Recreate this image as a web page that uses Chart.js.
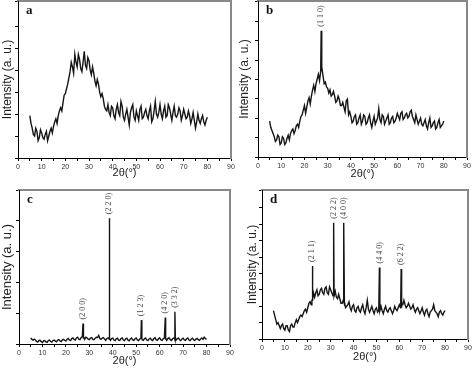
<!DOCTYPE html>
<html>
<head>
<meta charset="utf-8">
<script src="https://cdn.jsdelivr.net/npm/chart.js@4.4.1/dist/chart.umd.min.js"></script>
<style>
  body { margin: 0; background: #fff; }
  #wrap { position: relative; width: 474px; height: 368px; overflow: hidden; }
  canvas { position: absolute; }
</style>
</head>
<body>
<div id="wrap">
  <canvas id="pa" width="237" height="184" style="left:0;top:0"></canvas>
  <canvas id="pb" width="237" height="184" style="left:237px;top:0"></canvas>
  <canvas id="pc" width="237" height="184" style="left:0;top:184px"></canvas>
  <canvas id="pd" width="237" height="184" style="left:237px;top:184px"></canvas>
</div>
<script>
// 2theta grid (degrees): whole and half steps
var theta = [5,6,7,8,9,10,11,12,13,14,15,16,17,18,19,20,21,22,23,24,25,26,27,28,29,30,
  31,32,33,34,35,36,37,38,39,40,41,42,43,44,45,46,47,48,49,50,51,52,53,54,55,56,57,58,59,60,
  61,62,63,64,65,66,67,68,69,70,71,72,73,74,75,76,77,78,79,80];
var thetaHalf = [5.5,6.5,7.5,8.5,9.5,10.5,11.5,12.5,13.5,14.5,15.5,16.5,17.5,18.5,19.5,20.5,
  21.5,22.5,23.5,24.5,25.5,26.5,27.5,28.5,29.5,30.5,31.5,32.5,33.5,34.5,35.5,36.5,37.5,38.5,
  39.5,40.5,41.5,42.5,43.5,44.5,45.5,46.5,47.5,48.5,49.5,50.5,51.5,52.5,53.5,54.5,55.5,56.5,
  57.5,58.5,59.5,60.5,61.5,62.5,63.5,64.5,65.5,66.5,67.5,68.5,69.5,70.5,71.5,72.5,73.5,74.5,
  75.5,76.5,77.5,78.5,79.5];
var xTicks = [0, 10, 20, 30, 40, 50, 60, 70, 80, 90];

// intensities (a.u., 0-100 of the plot height)
var aInt = [27,19,14,17,13,16,12,17,14,19,
  20,25,27,32,35,41,47,55,58,66,
  58,63,55,68,57,62,53,54,46,47,
  39,38,31,34,27,32,25,34,27,33,
  24,31,21,32,26,30,24,33,26,31,
  25,33,25,36,26,34,25,33,27,32,
  24,33,26,32,24,31,25,30,22,29,
  19,28,22,27,21,26];
var aIntHalf = [22,15,19,11,18,13,15,11,17,16,
  23,22,30,30,40,44,51,61,54,61,
  66,57,61,59,64,56,58,49,50,42,
  41,33,30,29,33,27,31,29,36,26,
  28,26,29,34,24,27,31,25,29,27,
  30,23,30,28,29,28,30,26,34,28,
  29,27,28,30,27,28,26,27,25,24,
  23,24,25,23,24];
var bInt = [23,17,13,11,13,9,12,9,14,15,
  18,17,21,23,27,33,32,38,39,46,
  47,53,55,52,48,44,43,40,39,36,
  37,33,32,36,27,26,23,27,22,27,
  23,26,22,27,19,26,23,31,22,26,
  23,27,22,26,23,28,24,29,25,28,
  26,30,24,27,21,25,20,24,18,25,
  20,23,19,24,20,23];
var bIntHalf = [19,15,10,14,8,13,8,12,11,17,
  15,20,19,26,30,28,36,34,43,42,
  50,49,58,47,45,41,39,42,35,39,
  33,35,29,37,29,22,26,21,25,21,
  27,21,25,22,23,21,25,24,27,21,
  25,21,25,22,25,26,28,24,27,25,
  29,26,22,24,23,21,22,20,22,19,
  22,18,22,19,21];
var cInt = [4.0,2.5,2.6,1.2,2.4,1.0,2.3,1.1,2.5,1.2,
  2.6,1.4,2.8,1.6,3.0,1.9,3.6,2.2,4.0,2.6,
  4.4,2.9,4.6,3.0,4.0,2.8,4.2,2.8,4.4,5.6,
  3.0,4.2,2.4,4.0,2.4,3.8,2.2,3.8,2.3,3.9,
  2.2,3.8,2.1,3.9,2.3,3.9,2.2,3.8,2.4,3.9,
  2.2,3.8,2.3,4.0,2.4,4.0,2.3,3.9,2.4,4.0,
  2.3,3.9,2.5,3.9,2.2,3.8,2.3,3.9,2.2,3.8,
  2.3,3.7,2.4,3.9,4.4,3.0];
var cIntHalf = [3.0,3.2,1.6,2.3,1.5,2.1,1.4,2.2,1.6,2.3,
  1.8,2.5,2.0,2.7,2.4,3.1,2.6,3.5,3.0,3.9,
  3.2,4.2,3.4,4.4,3.1,3.9,3.0,3.8,4.2,3.6,
  3.9,3.2,3.6,3.0,3.5,2.6,3.4,2.5,3.5,2.6,
  3.4,2.5,3.3,2.6,3.4,2.6,3.3,2.7,3.4,2.6,
  3.3,2.7,3.5,2.8,3.4,2.7,3.4,2.7,3.5,2.8,
  3.4,2.8,3.4,2.7,3.3,2.7,3.4,2.6,3.3,2.7,
  3.2,2.8,3.3,3.0,3.6];
var dInt = [19,13,11,7,10,6,9,5,10,8,
  13,13,16,17,20,21,25,26,28,33,
  30,34,30,35,30,33,29,32,27,27,
  24,25,22,25,19,23,18,22,18,23,
  17,26,18,22,17,21,19,22,17,22,
  18,21,17,22,19,23,21,26,21,24,
  20,23,18,21,17,21,16,20,15,19,
  23,18,15,19,16,19];
var dIntHalf = [16,10,9,9,7,9,6,9,8,11,
  11,15,15,19,18,24,23,31,31,29,
  33,31,34,31,35,31,30,28,30,24,
  26,21,23,21,22,19,21,19,21,19,
  21,20,20,19,20,18,21,19,20,19,
  20,19,19,20,21,21,23,23,22,22,
  21,20,20,19,19,18,19,17,18,20,
  19,17,18,17,18];

// reflections
var bPeakPos = [27.2];
var bPeakTop = [81];
var bPeakBase = [55];
var bPeakHkl = ['(1 1 0)'];

var cPeakPos = [27.3, 38.5, 52.2, 62.4, 66.5];
var cPeakTop = [13.3, 81.7, 15.5, 17.2, 20.9];
var cPeakBase = [4.6, 3.6, 3.8, 3.9, 3.9];
var cPeakHkl = ['(2 0 0)', '(2 2 0)', '(1 2 3)', '(4 2 0)', '(3 3 2)'];

var dPeakPos = [22.0, 31.3, 35.8, 51.3, 60.8];
var dPeakTop = [49, 78, 78, 48, 47];
var dPeakBase = [26, 29, 25, 19, 23];
var dPeakHkl = ['(2 1 1)', '(2 2 2)', '(4 0 0)', '(4 4 0)', '(6 2 2)'];

Chart.defaults.font.family = '"Liberation Sans", Arial, sans-serif';

function buildPoints(vals, half, pos, top, base) {
    var pts = theta.map((t, i) => ({ x: t, y: vals[i] }));
    thetaHalf.forEach((t, i) => pts.push({ x: t, y: half[i] }));
    pos.forEach((p, i) => {
        pts.push({ x: p - 0.2, y: base[i] }, { x: p, y: top[i] }, { x: p + 0.2, y: base[i] });
    });
    pts.sort((a, b) => a.x - b.x);
    return pts;
}

// panel letter + hkl labels
const peakLabels = {
    id: 'peakLabels',
    afterDatasetsDraw(chart, args, opts) {
        const ctx = chart.ctx;
        const xs = chart.scales.x, ys = chart.scales.y, area = chart.chartArea;
        ctx.save();
        ctx.fillStyle = '#111';
        ctx.font = 'bold 13px "Liberation Serif"';
        ctx.textBaseline = 'alphabetic';
        ctx.fillText(opts.letter, area.left + 8, area.top + 13);
        ctx.font = '8px "Liberation Serif"';
        ctx.fillStyle = '#444';
        opts.pos.forEach((p, i) => {
            ctx.save();
            ctx.translate(xs.getPixelForValue(p), ys.getPixelForValue(opts.top[i]) - 4);
            ctx.rotate(-Math.PI / 2);
            ctx.textAlign = 'left';
            ctx.textBaseline = 'middle';
            ctx.fillText(opts.hkl[i], 0, 0);
            ctx.restore();
        });
        ctx.restore();
    }
};

function makePanel(id, letter, vals, half, pos, top, base, hkl, box) {
    var W = 237, H = 184;
    return new Chart(document.getElementById(id), {
        type: 'line',
        data: {
            datasets: [{
                data: buildPoints(vals, half, pos, top, base),
                borderColor: '#151515',
                borderWidth: 1.4,
                pointRadius: 0,
                tension: 0
            }]
        },
        options: {
            responsive: false,
            animation: false,
            devicePixelRatio: 1,
            layout: { padding: 0 },
            plugins: {
                legend: { display: false },
                tooltip: { enabled: false },
                peakLabels: { letter: letter, pos: pos, top: top, hkl: hkl }
            },
            scales: {
                x: {
                    type: 'linear', position: 'bottom', min: 0, max: 90,
                    afterBuildTicks: s => { s.ticks = [0,5,10,15,20,25,30,35,40,45,50,55,60,65,70,75,80,85,90].map(v => ({ value: v })); },
                    ticks: {
                        maxRotation: 0, autoSkip: false, padding: 2,
                        font: { size: 7 }, color: '#333',
                        callback: v => xTicks.includes(v) ? v : ''
                    },
                    grid: { drawOnChartArea: false, tickLength: 3, tickColor: '#000' },
                    border: { color: '#000', width: 1 },
                    title: { display: true, text: '2θ(°)', font: { size: 11 }, color: '#222', padding: { top: 0, bottom: box.xPad } },
                    afterFit: s => { s.height = H - box.b; }
                },
                x2: {
                    type: 'linear', position: 'top', display: true,
                    ticks: { display: false }, grid: { display: false },
                    border: { color: '#888', width: 2 },
                    afterFit: s => { s.height = box.t; }
                },
                y: {
                    type: 'linear', position: 'left', min: 0, max: 100,
                    ticks: { display: false, stepSize: box.step },
                    grid: { drawOnChartArea: false, tickLength: 3, tickColor: '#000' },
                    border: { color: '#000', width: 1 },
                    title: { display: true, text: 'Intensity (a. u.)', font: { size: box.ySize }, color: '#222', padding: { top: box.yPad, bottom: 0 } },
                    afterFit: s => { s.width = box.l; }
                },
                y2: {
                    type: 'linear', position: 'right', display: true,
                    ticks: { display: false }, grid: { display: false },
                    border: { color: '#888', width: 2 },
                    afterFit: s => { s.width = W - box.r; }
                }
            }
        },
        plugins: [peakLabels]
    });
}

makePanel('pa', 'a', aInt, aIntHalf, [], [], [], [], { l: 18, t: 1, r: 231, b: 158, step: 14, ySize: 12, yPad: 0, xPad: 4 });
makePanel('pb', 'b', bInt, bIntHalf, bPeakPos, bPeakTop, bPeakBase, bPeakHkl, { l: 21, t: 1, r: 230, b: 157, step: 12.4, ySize: 12, yPad: 0, xPad: 3 });
makePanel('pc', 'c', cInt, cIntHalf, cPeakPos, cPeakTop, cPeakBase, cPeakHkl, { l: 19, t: 6, r: 230, b: 160, step: 20, ySize: 13, yPad: 0, xPad: 0 });
makePanel('pd', 'd', dInt, dIntHalf, dPeakPos, dPeakTop, dPeakBase, dPeakHkl, { l: 25, t: 6, r: 231, b: 155, step: 11, ySize: 12, yPad: 8, xPad: 4 });
</script>
</body>
</html>
